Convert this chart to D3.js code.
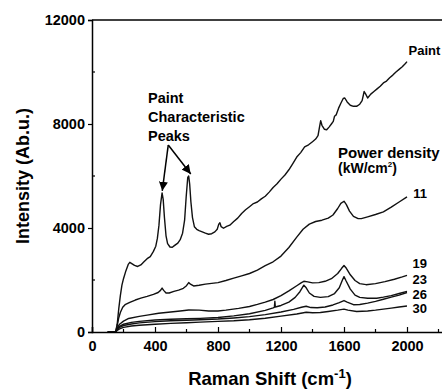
<!DOCTYPE html>
<html><head><meta charset="utf-8">
<script src="https://cdn.jsdelivr.net/npm/d3@7/dist/d3.min.js"></script>
<style>
html,body{margin:0;padding:0;background:#fff;}
svg{display:block;font-family:"Liberation Sans",Arial,Helvetica,sans-serif;font-weight:bold;}
</style></head>
<body>
<svg id="chart" width="442" height="390"></svg>
<script>
// ---- data ----
const xTicks = [0, 400, 800, 1200, 1600, 2000];
const yTicks = [0, 4000, 8000, 12000];
const seriesNames = ["Paint", "11", "19", "23", "26", "30"];

const paint = [[100,0],[150,0],[160,300],[170,900],[180,1400],[190,1800],[200,2050],[215,2350],[230,2600],[240,2680],[255,2620],[270,2560],[290,2520],[310,2580],[330,2700],[350,2820],[370,2900],[390,3100],[405,3300],[415,3600],[425,4100],[435,4900],[445,5350],[452,5100],[460,4400],[470,3700],[480,3400],[495,3270],[510,3260],[525,3330],[545,3420],[560,3550],[575,3800],[588,4300],[598,5200],[608,5950],[614,6000],[620,5700],[628,5000],[638,4400],[650,4050],[665,3950],[680,3900],[700,3850],[720,3800],[740,3760],[760,3780],[780,3850],[795,3950],[805,4150],[812,4200],[820,4050],[835,3990],[855,4060],[875,4110],[900,4250],[925,4380],[950,4560],[975,4700],[1000,4820],[1025,4940],[1050,5000],[1075,5120],[1100,5220],[1125,5380],[1150,5560],[1175,5700],[1200,5880],[1225,6040],[1250,6240],[1275,6480],[1300,6730],[1325,6900],[1350,7120],[1375,7200],[1400,7320],[1420,7420],[1435,7550],[1445,7900],[1452,8130],[1460,7950],[1475,7800],[1490,7780],[1505,7880],[1520,8000],[1532,8100],[1540,8300],[1550,8350],[1565,8600],[1580,8800],[1595,8980],[1605,9000],[1620,8850],[1640,8720],[1660,8680],[1680,8680],[1700,8760],[1715,8900],[1728,9250],[1738,9150],[1750,9000],[1770,9150],[1790,9250],[1810,9350],[1830,9450],[1850,9580],[1870,9650],[1890,9780],[1910,9880],[1930,10000],[1950,10100],[1970,10200],[1990,10330],[2000,10400]];

const pd11 = [[100,0],[150,0],[160,250],[170,550],[180,750],[195,950],[210,1050],[240,1140],[275,1230],[310,1300],[350,1370],[390,1450],[420,1520],[435,1600],[445,1690],[455,1600],[470,1500],[490,1500],[520,1560],[550,1610],[580,1680],[600,1780],[614,1900],[625,1840],[645,1770],[680,1800],[720,1840],[760,1870],[800,1900],[850,1980],[900,2070],[950,2160],[1000,2250],[1050,2380],[1100,2550],[1150,2700],[1200,2920],[1250,3250],[1300,3650],[1340,3950],[1380,4150],[1420,4250],[1460,4300],[1500,4380],[1530,4500],[1560,4750],[1580,4950],[1600,5030],[1615,4900],[1635,4650],[1660,4450],[1690,4360],[1710,4360],[1750,4430],[1800,4520],[1850,4620],[1900,4800],[1950,5000],[2000,5200]];

const pd19 = [[100,0],[150,0],[160,150],[175,300],[200,420],[233,520],[300,600],[350,650],[423,720],[500,770],[560,810],[614,846],[680,840],[741,808],[800,810],[850,840],[931,910],[1000,980],[1050,1060],[1100,1150],[1150,1250],[1200,1400],[1250,1580],[1300,1780],[1330,1900],[1345,1950],[1370,1930],[1400,1890],[1440,1900],[1480,1950],[1520,2050],[1560,2250],[1585,2450],[1600,2560],[1615,2450],[1640,2200],[1670,1980],[1700,1860],[1740,1820],[1800,1860],[1860,1940],[1920,2030],[1970,2120],[2000,2180]];

const pd23 = [[100,0],[150,0],[160,120],[175,220],[200,300],[250,370],[300,410],[400,460],[500,490],[600,510],[686,525],[800,560],[900,620],[1000,700],[1100,830],[1150,930],[1158,950],[1161,1180],[1164,960],[1200,1020],[1250,1150],[1290,1330],[1320,1550],[1345,1800],[1360,1700],[1380,1500],[1410,1370],[1450,1330],[1500,1360],[1540,1480],[1570,1700],[1590,2000],[1600,2130],[1612,1980],[1640,1650],[1670,1420],[1700,1330],[1750,1300],[1808,1300],[1850,1340],[1900,1400],[1950,1480],[2000,1560]];

const pd26 = [[100,0],[150,0],[160,100],[175,180],[200,250],[250,310],[300,350],[400,400],[500,430],[600,450],[686,470],[800,500],[900,540],[1000,590],[1100,670],[1200,770],[1280,870],[1330,950],[1360,990],[1390,940],[1430,930],[1480,960],[1530,1040],[1570,1130],[1600,1210],[1620,1150],[1660,1050],[1700,1060],[1750,1110],[1800,1180],[1850,1260],[1900,1340],[1950,1420],[2000,1520]];

const pd30 = [[100,0],[150,0],[160,60],[175,120],[200,180],[250,230],[300,260],[400,300],[500,330],[600,355],[686,380],[800,410],[900,430],[1000,470],[1100,530],[1200,610],[1300,690],[1360,760],[1400,740],[1450,750],[1500,790],[1560,840],[1600,880],[1625,840],[1680,790],[1750,810],[1800,840],[1850,880],[1900,920],[1950,960],[2000,1000]];

const allSeries = [paint, pd11, pd19, pd23, pd26, pd30];

// ---- chart ----
const svg = d3.select("#chart");
const x = d3.scaleLinear().domain([0, 2240]).range([92, 444.8]);
const y = d3.scaleLinear().domain([0, 12000]).range([332, 20]);

const line = d3.line().x(d => x(d[0])).y(d => y(d[1]));
svg.append("g").selectAll("path").data(allSeries).join("path")
  .attr("d", line).attr("fill", "none").attr("stroke", "#111")
  .attr("stroke-width", 1.4).attr("stroke-linejoin", "round");

// axes
const xAxis = d3.axisBottom(x).tickValues(xTicks).tickSize(-5).tickPadding(9).tickFormat(d3.format("d"));
const gx = svg.append("g").attr("transform", `translate(0,${y(0)})`).call(xAxis);
const xMinor = d3.range(200, 2240, 400);
gx.selectAll(".minor").data(xMinor).join("line").attr("class","minor")
  .attr("x1", d => x(d)).attr("x2", d => x(d)).attr("y1", 0).attr("y2", -3)
  .attr("stroke", "#000").attr("stroke-width", 1.2);

const yAxis = d3.axisLeft(y).tickValues(yTicks).tickSize(4).tickPadding(3).tickFormat(d3.format("d"));
const gy = svg.append("g").attr("transform", `translate(${x(0)},0)`).call(yAxis);
const yMinor = [2000, 6000, 10000];
gy.selectAll(".minor").data(yMinor).join("line").attr("class","minor")
  .attr("x1", 0).attr("x2", 3).attr("y1", d => y(d)).attr("y2", d => y(d))
  .attr("stroke", "#000").attr("stroke-width", 1.2);

[gx, gy].forEach(g => {
  g.select(".domain").attr("stroke", "#000").attr("stroke-width", 1.5);
  g.selectAll(".tick line").attr("stroke", "#000").attr("stroke-width", 1.2);
  g.selectAll(".tick text").attr("fill", "#000").style("font-size", "14.5px")
    .style("font-family", "'Liberation Sans',Arial,sans-serif").style("font-weight", "bold");
});
gx.selectAll(".tick text").attr("dy", "0.71em");

// top frame
svg.append("line").attr("x1", x(0)).attr("x2", 442).attr("y1", y(12000)).attr("y2", y(12000))
  .attr("stroke", "#000").attr("stroke-width", 1.5);

// axis titles
const xt = svg.append("text").attr("x", 270).attr("y", 385).attr("text-anchor", "middle")
  .style("font-size", "18.5px");
xt.append("tspan").text("Raman Shift (cm");
xt.append("tspan").attr("dy", -7).style("font-size", "13px").text("-1");
xt.append("tspan").attr("dy", 7).text(")");

svg.append("text").attr("transform", "translate(29,176) rotate(-90)").attr("text-anchor", "middle")
  .style("font-size", "18px").text("Intensity (Ab.u.)");

// series labels at right end
svg.append("text").attr("x", x(2010)).attr("y", y(10650)).style("font-size", "13px").text("Paint");
svg.append("text").attr("x", x(2040)).attr("y", y(5170)).style("font-size", "13px").text("11");
const lowLabels = [["19", 2450], ["23", 1850], ["26", 1270], ["30", 720]];
svg.append("g").selectAll("text").data(lowLabels).join("text")
  .attr("x", x(2035)).attr("y", d => y(d[1])).style("font-size", "13px").text(d => d[0]);

// power density annotation
svg.append("text").attr("x", 338).attr("y", 158).style("font-size", "15px").text("Power density");
const pdt = svg.append("text").attr("x", 338).attr("y", 173).style("font-size", "14px");
pdt.append("tspan").text("(kW/cm");
pdt.append("tspan").attr("dy", -6).style("font-size", "8px").text("2");
pdt.append("tspan").attr("dy", 6).text(")");

// paint characteristic peaks annotation
const ann = svg.append("text").style("font-size", "14.5px");
["Paint", "Characteristic", "Peaks"].forEach((t, i) => {
  ann.append("tspan").attr("x", 148).attr("y", 103 + i * 19).text(t);
});
const defs = svg.append("defs");
defs.append("marker").attr("id", "arr").attr("viewBox", "0 0 10 10").attr("refX", 10).attr("refY", 5)
  .attr("markerWidth", 9).attr("markerHeight", 9).attr("markerUnits", "userSpaceOnUse")
  .attr("orient", "auto").append("path").attr("d", "M0,0 L10,5 L0,10 z").attr("fill", "#000");
const start = [x(484), y(7190)];
[[446, 5430], [627, 6080]].forEach(t => {
  svg.append("line").attr("x1", start[0]).attr("y1", start[1])
    .attr("x2", x(t[0])).attr("y2", y(t[1])).attr("stroke", "#000").attr("stroke-width", 1.5)
    .attr("marker-end", "url(#arr)");
});
</script>
</body></html>
